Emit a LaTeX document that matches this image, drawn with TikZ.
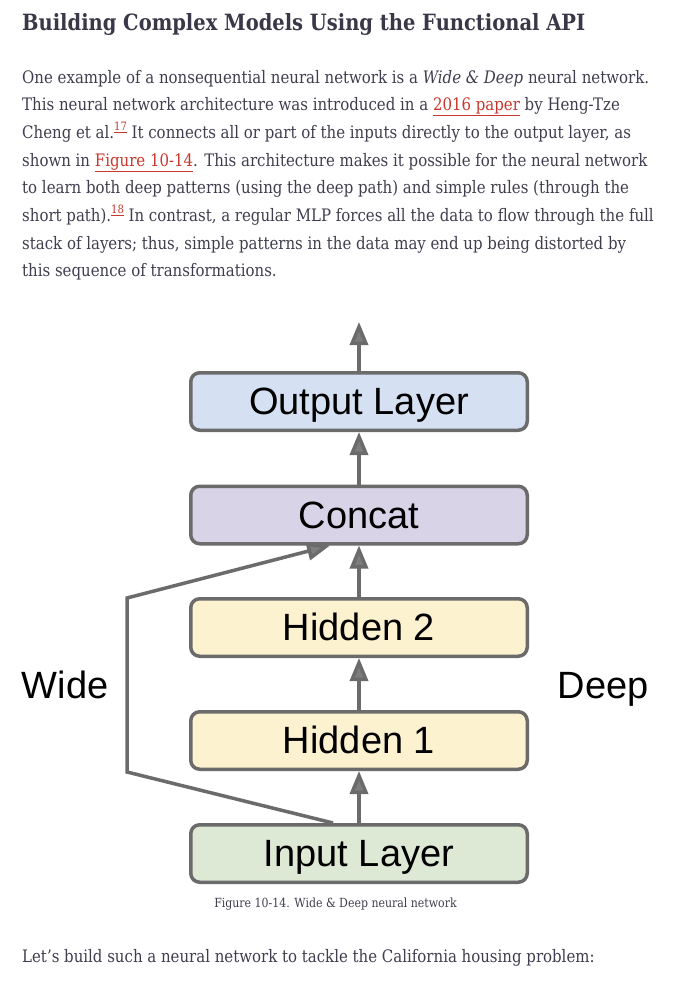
\documentclass[tikz,border=0pt]{standalone}
\usepackage{fontspec}
\setmainfont{DejaVu Serif}[FakeStretch=0.87]
\newfontfamily\sansf{Liberation Sans}
\usetikzlibrary{arrows.meta}
\definecolor{txt}{HTML}{403E4E}
\definecolor{ttl}{HTML}{3A3848}
\definecolor{lnkc}{HTML}{C8372D}
\definecolor{edge}{HTML}{6B6B6B}
\definecolor{outc}{HTML}{D5E1F2}
\definecolor{catc}{HTML}{D9D3E8}
\definecolor{hidc}{HTML}{FDF2D0}
\definecolor{inpc}{HTML}{DDE8D5}
\newcommand{\lnk}[1]{\textcolor{lnkc}{\underline{#1}}}
\newcommand{\supl}[1]{\raisebox{0.45em}{\fontsize{11.5}{11.5}\selectfont\textcolor{lnkc}{\underline{#1}}}}
\tikzset{
  bodyline/.style={anchor=base west, inner sep=0, text=txt, font=\fontsize{17.2}{19}\selectfont},
  layer/.style={draw=edge, line width=3.5pt, rounded corners=9pt, minimum width=336.5pt, minimum height=57.5pt, inner sep=0, text height=27pt, text depth=1pt, font=\sansf\fontsize{38}{38}\selectfont, text=black},
  conn/.style={draw=edge, line width=3.5pt, -{Triangle[width=18pt, length=23pt, fill=edge!88!white]}},
  sidelabel/.style={inner sep=0, anchor=base, font=\sansf\fontsize{38}{38}\selectfont, text=black}
}
\begin{document}
\begin{tikzpicture}[x=1pt,y=-1pt]
\useasboundingbox[fill=white] (0,0) rectangle (684,991);
% title
\node[anchor=base west, inner sep=0, text=ttl, font=\fontsize{22.4}{25}\selectfont\bfseries] (title) at (22,30) {Building Complex Models Using the Functional API};
% paragraph
\node[bodyline] (t1) at (22,83) {One example of a nonsequential neural network is a \textit{Wide \& Deep} neural network.};
\node[bodyline] (t2) at (22,110.7) {This neural network architecture was introduced in a \lnk{2016 paper} by Heng-Tze};
\node[bodyline] (t3) at (22,138.4) {Cheng et al.\supl{17} It connects all or part of the inputs directly to the output layer, as};
\node[bodyline] (t4) at (22,166.1) {shown in \lnk{Figure 10-14}. This architecture makes it possible for the neural network};
\node[bodyline] (t5) at (22,193.8) {to learn both deep patterns (using the deep path) and simple rules (through the};
\node[bodyline] (t6) at (22,221.5) {short path).\supl{18} In contrast, a regular MLP forces all the data to flow through the full};
\node[bodyline] (t7) at (22,249.2) {stack of layers; thus, simple patterns in the data may end up being distorted by};
\node[bodyline] (t8) at (22,276.9) {this sequence of transformations.};
% diagram
\node[layer, fill=outc] (out) at (359,401.5) {Output Layer};
\node[layer, fill=catc] (cat) at (359,515) {Concat};
\node[layer, fill=hidc] (h2) at (359,627.5) {Hidden 2};
\node[layer, fill=hidc] (h1) at (359,740.5) {Hidden 1};
\node[layer, fill=inpc] (inp) at (359,853.5) {Input Layer};
\coordinate (top) at (359,322);
\coordinate (w1) at (127,772);
\coordinate (w2) at (127,598);
\draw[conn] (out.north) -- (top);
\draw[conn] (cat.north) -- (out.south);
\draw[conn] (h2.north) -- (cat.south);
\draw[conn] (h1.north) -- (h2.south);
\draw[conn] (inp.north) -- (h1.south);
\draw[conn, line join=miter] ([xshift=-26pt]inp.north) -- (w1) -- (w2) -- ([xshift=-29pt]cat.south);
\node[sidelabel] (wide) at (65,698) {Wide};
\node[sidelabel] (deep) at (603,698) {Deep};
\node[anchor=base, inner sep=0, text=txt, font=\fontsize{12.6}{14}\selectfont] (cap) at (335.5,907) {Figure 10-14. Wide \& Deep neural network};
\node[bodyline] (last) at (22,962) {Let’s build such a neural network to tackle the California housing problem:};
\end{tikzpicture}
\end{document}
